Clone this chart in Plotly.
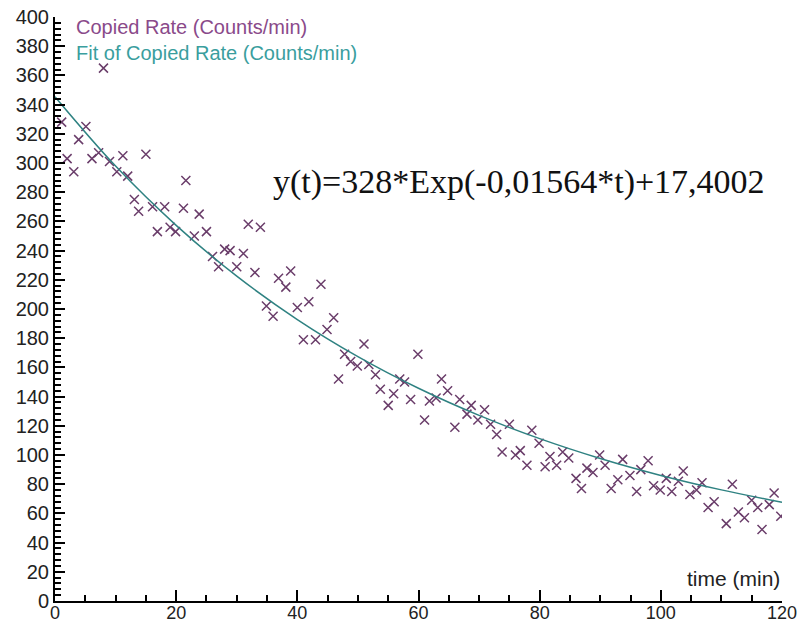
import plotly.graph_objects as go

# Measured data: time (min) and copied rate (counts/min)
time_min = [1.1, 2.0, 3.1, 3.9, 5.1, 6.1, 7.2, 8.0, 9.0, 10.2, 11.2, 12.0, 13.1, 13.8, 15.0,
            16.1, 16.9, 18.1, 19.0, 19.9, 21.2, 21.6, 23.0, 23.8, 25.0, 26.0, 27.0, 28.0, 28.9,
            30.0, 31.1, 31.9, 33.0, 33.9, 34.9, 36.0, 36.9, 38.1, 38.9, 40.0, 41.0, 41.9, 43.0,
            43.9, 44.9, 46.0, 46.8, 47.8, 48.8, 49.9, 51.0, 51.8, 52.9, 53.7, 55.0, 55.9, 56.9,
            57.7, 58.7, 59.9, 61.0, 61.8, 62.9, 63.8, 64.8, 66.0, 66.8, 68.0, 68.7, 69.8, 70.9,
            71.9, 72.9, 73.8, 75.0, 76.0, 76.8, 77.9, 78.7, 79.9, 80.9, 81.7, 82.8, 83.8, 84.8,
            86.0, 86.9, 87.8, 88.8, 89.9, 90.8, 91.8, 92.9, 93.7, 94.9, 96.0, 96.7, 97.9, 98.8,
            99.9, 100.9, 101.8, 102.9, 103.7, 104.8, 105.9, 106.8, 107.8, 108.8, 110.8, 111.8,
            112.8, 113.8, 115.0, 116.0, 116.7, 117.9, 118.7, 119.8]
rate = [328, 303, 294, 316, 325, 303, 307, 365, 301, 294, 305, 291, 275, 267, 306,
        270, 253, 270, 256, 253, 269, 288, 250, 265, 253, 236, 229, 241, 240,
        229, 238, 258, 225, 256, 202, 195, 221, 215, 226, 201, 179, 205, 179,
        217, 186, 194, 152, 169, 164, 161, 176, 162, 155, 145, 134, 142, 152,
        150, 138, 169, 124, 137, 139, 152, 144, 119, 138, 128, 134, 124, 131,
        121, 114, 102, 121, 100, 103, 93, 117, 108, 92, 99, 93, 102, 98,
        84, 77, 91, 88, 100, 93, 77, 83, 97, 86, 75, 90, 96, 79,
        76, 84, 75, 82, 89, 73, 76, 81, 64, 68, 53, 80,
        61, 57, 69, 64, 49, 66, 74, 58]

# Fit curve
fit_time = [0, 10, 20, 30, 40, 50, 60, 70, 80, 90, 100, 110, 120]
fit_rate = [345.4, 297.9, 257.3, 222.5, 192.8, 167.4, 145.7, 127.1, 111.2, 97.6, 86.0, 76.1, 67.6]

series_names = ["Copied Rate (Counts/min)", "Fit of Copied Rate (Counts/min)"]
equation = "y(t)=328*Exp(-0,01564*t)+17,4002"
x_title = "time (min)"

sans = "Liberation Sans, Arial, sans-serif"
data_color = "#6a3d6a"
fit_color = "#2f8282"

fig = go.Figure()
fig.add_trace(go.Scatter(
    x=time_min, y=rate, mode="markers", name=series_names[0],
    marker=dict(symbol="x-thin", size=9, line=dict(width=1.5, color=data_color)),
))
fig.add_trace(go.Scatter(
    x=fit_time, y=fit_rate, mode="lines", name=series_names[1],
    line=dict(color=fit_color, width=1.5, shape="spline"),
))

legend_text = ("<span style='color:#8a4a8a'>" + series_names[0] + "</span><br>"
               "<span style='color:#3a9e9e'>" + series_names[1] + "</span>")
fig.add_annotation(text=legend_text, xref="paper", yref="paper", x=0.026, y=0.961,
                   xanchor="left", yanchor="middle", align="left", showarrow=False,
                   font=dict(family=sans, size=20))
fig.add_annotation(text=equation, xref="paper", yref="paper", x=0.297, y=0.717,
                   xanchor="left", yanchor="middle", showarrow=False,
                   font=dict(family="Liberation Serif, Times New Roman, serif", size=34, color="#111111"))
fig.add_annotation(text=x_title, xref="paper", yref="paper", x=1.0, y=0.039,
                   xanchor="right", yanchor="middle", showarrow=False,
                   font=dict(family=sans, size=21, color="#222222"))

fig.update_layout(
    width=798, height=625,
    margin=dict(l=55, r=16, t=17, b=24),
    paper_bgcolor="white", plot_bgcolor="white",
    showlegend=False,
    xaxis=dict(range=[0, 120], dtick=20, tick0=0, showgrid=False, zeroline=False,
               automargin=False, ticklabeloverflow="allow", ticklabelstandoff=-6,
               showline=True, linecolor="black", linewidth=2,
               ticks="inside", ticklen=11, tickwidth=1.5, tickcolor="black",
               minor=dict(dtick=5, ticks="inside", ticklen=6, tickwidth=1.5, tickcolor="black"),
               tickfont=dict(family=sans, size=18, color="#222222")),
    yaxis=dict(range=[0, 400], dtick=20, tick0=0, showgrid=False, zeroline=False,
               automargin=False, ticklabeloverflow="allow",
               showline=True, linecolor="black", linewidth=2,
               ticks="inside", ticklen=10, tickwidth=1.5, tickcolor="black",
               minor=dict(dtick=4, ticks="inside", ticklen=6, tickwidth=1.5, tickcolor="black"),
               tickfont=dict(family=sans, size=20, color="#222222")),
)

fig.write_html("out.html")
